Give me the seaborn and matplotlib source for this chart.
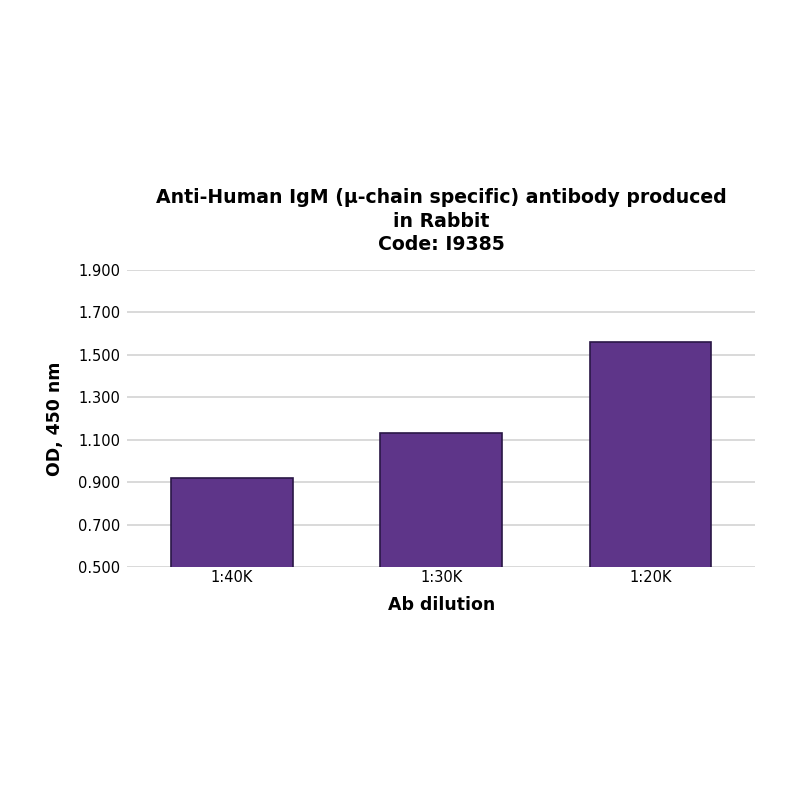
import matplotlib
matplotlib.use("Agg")
import matplotlib.pyplot as plt
import seaborn as sns
import pandas as pd

# values
dilutions = ["1:40K", "1:30K", "1:20K"]
od_values = [0.92, 1.13, 1.56]
y_ticks = [0.5, 0.7, 0.9, 1.1, 1.3, 1.5, 1.7, 1.9]

df = pd.DataFrame({"dilution": dilutions, "od": od_values})

sns.set_theme(style="white")
plt.rcParams['font.family'] = ['DejaVu Sans']
plt.rcParams['text.color'] = 'black'
plt.rcParams['axes.labelcolor'] = 'black'
plt.rcParams['xtick.color'] = 'black'
plt.rcParams['ytick.color'] = 'black'

fig = plt.figure(figsize=(8, 8), dpi=100)
ax = fig.add_axes([0.159, 0.291, 0.785, 0.372])

sns.barplot(data=df, x="dilution", y="od", color="#5e3589", saturation=1,
            width=0.58, edgecolor="#2a1746", linewidth=1.2, ax=ax, zorder=3)

ax.set_ylim(0.5, 1.9)
ax.set_xlim(-0.5, 2.5)
ax.set_yticks(y_ticks)
ax.set_yticklabels([f"{v:.3f}" for v in y_ticks], fontsize=10.5)
ax.tick_params(axis="x", labelsize=10.5, length=0, pad=2)
ax.tick_params(axis="y", length=0, pad=5)
ax.yaxis.grid(True, color="#d0d0d0", linewidth=1.1, zorder=0)
ax.set_axisbelow(True)
for s in ax.spines.values():
    s.set_visible(False)

ax.set_xlabel("Ab dilution", fontsize=12.5, fontweight="bold", labelpad=8)
ax.set_ylabel("OD, 450 nm", fontsize=12.5, fontweight="bold", labelpad=10)
ax.set_title("Anti-Human IgM (\u03bc-chain specific) antibody produced\nin Rabbit\nCode: I9385",
             fontsize=13.6, fontweight="bold", pad=14, linespacing=1.3)

fig.savefig("out.png", dpi=100, facecolor="white")
